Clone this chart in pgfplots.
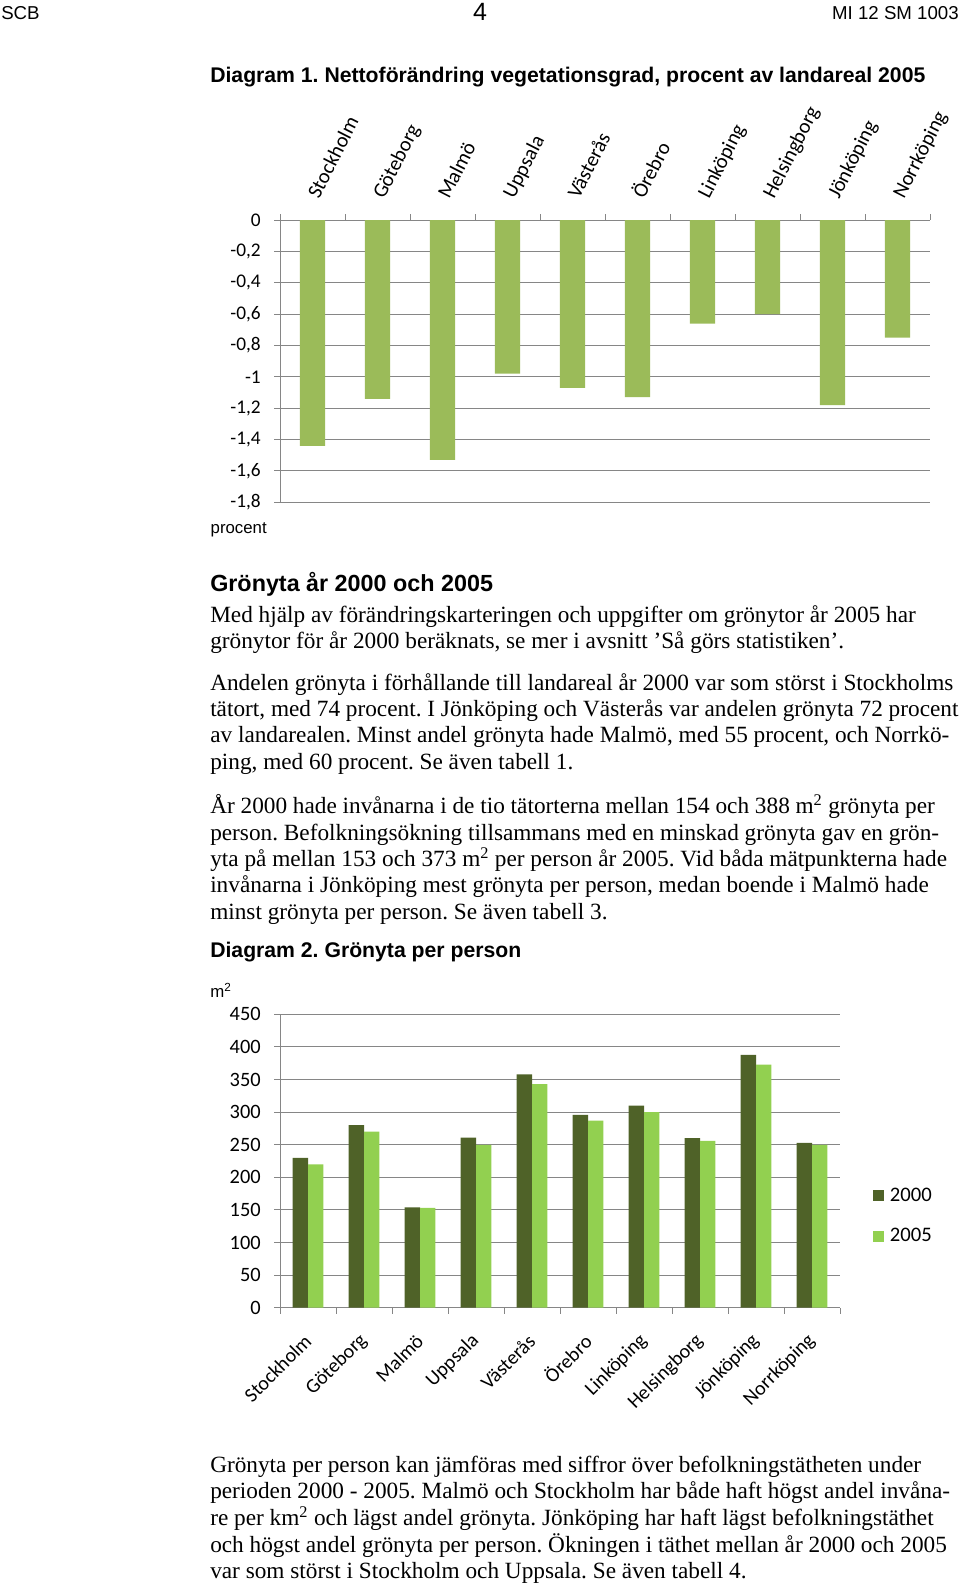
\documentclass[border=0pt]{standalone}
\usepackage{pgfplots}
\pgfplotsset{compat=1.18}
\usepackage{fontspec}
\setmainfont{Liberation Serif}
\newfontfamily\arial{Liberation Sans}
\newfontfamily\calibri{Carlito}
\newcommand\fs[1]{\fontsize{#1}{#1}\selectfont}
\definecolor{barone}{HTML}{9BBB59}
\definecolor{darkg}{HTML}{4F6228}
\definecolor{lightg}{HTML}{92D050}
\definecolor{gridgray}{HTML}{868686}
\begin{document}
\frenchspacing
\begin{tikzpicture}[x=0.75pt,y=-0.75pt]
\useasboundingbox (0,0) rectangle (960,1586);
\tikzset{body/.style={anchor=mid west,inner sep=0pt,font=\fs{17.45pt}\frenchspacing}}
% header
\node[anchor=base west,inner sep=0pt,font=\arial\fs{14pt}] at (1,19.2) {SCB};
\node[anchor=base,inner sep=0pt,font=\arial\fs{18.75pt}] at (480,20) {4};
\node[anchor=base east,inner sep=0pt,font=\arial\fs{14pt}] at (959,19.2) {MI 12 SM 1003};
\node[anchor=base west,inner sep=0pt,font=\arial\bfseries\fs{15.9pt}] at (210,82.5) {Diagram 1. Nettoförändring vegetationsgrad, procent av landareal 2005};

% chart 1
\begin{scope}[x=1cm,y=1cm]
\begin{axis}[
 at={(210pt,-376.725pt)}, anchor=south west, scale only axis,
 width=487.5pt, height=211.7pt,
 xmin=0, xmax=10, ymin=-1.8, ymax=0, enlargelimits=false,
 axis line style={draw=none},
 xtick pos=right, xticklabel pos=right, ytick pos=left, yticklabel pos=left,
 tick align=inside, ytick align=outside,
 ymajorgrids, grid style={draw=gridgray, line width=0.75pt},
 minor xtick={0}, xminorgrids, minor grid style={draw=gridgray, line width=0.75pt},
 major tick length=4.5pt, minor tick length=0pt,
 tick style={draw=gridgray, line width=0.75pt},
 xtick={0,1,...,10}, xticklabels={},
 extra x ticks={0.6,1.6,2.6,3.6,4.6,5.6,6.6,7.6,8.6,9.6},
 extra x tick labels={Stockholm,Göteborg,Malmö,Uppsala,Västerås,Örebro,Linköping,Helsingborg,Jönköping,Norrköping},
 extra x tick style={grid=none, major tick length=0pt, tick style={draw=none},
   tick label style={rotate=63, anchor=base west, inner sep=0pt, font=\calibri\fs{15.5pt}}},
 xticklabel shift=15pt,
 ytick={-1.8,-1.6,-1.4,-1.2,-1,-0.8,-0.6,-0.4,-0.2,0},
 yticklabels={{-1,8},{-1,6},{-1,4},{-1,2},{-1},{-0,8},{-0,6},{-0,4},{-0,2},{0}},
 yticklabel style={font=\calibri\fs{14.5pt}, inner sep=0pt, anchor=east},
 yticklabel shift=9.75pt,
 ybar, bar width=19.1pt,
]
\addplot[fill=barone, draw=none] coordinates {(0.5,-1.44) (1.5,-1.14) (2.5,-1.53) (3.5,-0.98) (4.5,-1.07) (5.5,-1.13) (6.5,-0.66) (7.5,-0.60) (8.5,-1.18) (9.5,-0.75)};
\end{axis}
\end{scope}
\node[anchor=mid west,inner sep=0pt,font=\arial\fs{12.6pt}] at (210.4,530) {procent};

% text
\node[anchor=base west,inner sep=0pt,font=\arial\bfseries\fs{17.5pt}] at (210,591) {Grönyta år 2000 och 2005};
\node[body] at (210,619.6) {Med hjälp av förändringskarteringen och uppgifter om grönytor år 2005 har};
\node[body] at (210,645.9) {grönytor för år 2000 beräknats, se mer i avsnitt ’Så görs statistiken’.};
\node[body] at (210,687.4) {Andelen grönyta i förhållande till landareal år 2000 var som störst i Stockholms};
\node[body] at (210,713.7) {tätort, med 74 procent. I Jönköping och Västerås var andelen grönyta 72 procent};
\node[body] at (210,739.9) {av landarealen. Minst andel grönyta hade Malmö, med 55 procent, och Norrkö-};
\node[body] at (210,766.2) {ping, med 60 procent. Se även tabell 1.};
\node[body] at (210,810.8) {År 2000 hade invånarna i de tio tätorterna mellan 154 och 388 m\textsuperscript{2} grönyta per};
\node[body] at (210,837.0) {person. Befolkningsökning tillsammans med en minskad grönyta gav en grön-};
\node[body] at (210,863.3) {yta på mellan 153 och 373 m\textsuperscript{2} per person år 2005. Vid båda mätpunkterna hade};
\node[body] at (210,889.7) {invånarna i Jönköping mest grönyta per person, medan boende i Malmö hade};
\node[body] at (210,916.0) {minst grönyta per person. Se även tabell 3.};
\node[anchor=base west,inner sep=0pt,font=\arial\bfseries\fs{15.9pt}] at (210,957.5) {Diagram 2. Grönyta per person};
\node[anchor=mid west,inner sep=0pt,font=\arial\fs{12.6pt}] at (210,994) {m\textsuperscript{2}};

% chart 2
\begin{scope}[x=1cm,y=1cm]
\begin{axis}[
 at={(210pt,-980.775pt)}, anchor=south west, scale only axis,
 width=420pt, height=220pt,
 xmin=0, xmax=10, ymin=0, ymax=450, enlargelimits=false,
 axis x line*=bottom, axis y line*=left,
 axis line style={draw=gridgray, line width=0.75pt, -},
 ymajorgrids, grid style={draw=gridgray, line width=0.75pt},
 tick align=outside, major tick length=4.5pt,
 tick style={draw=gridgray, line width=0.75pt},
 xtick={0,1,...,10}, xticklabels={},
 extra x ticks={0.5,1.5,...,9.5},
 extra x tick labels={Stockholm,Göteborg,Malmö,Uppsala,Västerås,Örebro,Linköping,Helsingborg,Jönköping,Norrköping},
 extra x tick style={grid=none, major tick length=0pt, tick style={draw=none},
   tick label style={rotate=45, anchor=east, inner sep=0pt, font=\calibri\fs{15pt}}},
 xticklabel shift=22.5pt,
 ytick={0,50,100,150,200,250,300,350,400,450},
 yticklabels={0,50,100,150,200,250,300,350,400,450},
 yticklabel style={font=\calibri\fs{15.3pt}, inner sep=0pt, anchor=east},
 yticklabel shift=9.75pt,
 ybar=0pt, bar width=11.5pt,
 legend cell align=left,
 legend image code/.code={\fill[#1] (0pt,-4.1pt) rectangle (8.25pt,4.1pt);},
 legend style={at={(1.0589,0.3125)}, anchor=west, draw=none, fill=none,
   inner sep=0pt, outer sep=0pt, row sep=18.7pt, font=\calibri\fs{15.5pt},
   nodes={inner xsep=4.5pt, inner ysep=0pt}},
]
\addplot[fill=darkg, draw=none] coordinates {(0.5,230) (1.5,280) (2.5,154) (3.5,261) (4.5,358) (5.5,296) (6.5,310) (7.5,260) (8.5,388) (9.5,253)};
\addplot[fill=lightg, draw=none] coordinates {(0.5,220) (1.5,270) (2.5,153) (3.5,250) (4.5,343) (5.5,287) (6.5,300) (7.5,256) (8.5,373) (9.5,250)};
\legend{2000,2005}
\end{axis}
\end{scope}

\node[body] at (210,1469.3) {Grönyta per person kan jämföras med siffror över befolkningstätheten under};
\node[body] at (210,1495.6) {perioden 2000 - 2005. Malmö och Stockholm har både haft högst andel invåna-};
\node[body] at (210,1522.9) {re per km\textsuperscript{2} och lägst andel grönyta. Jönköping har haft lägst befolkningstäthet};
\node[body] at (210,1549.3) {och högst andel grönyta per person. Ökningen i täthet mellan år 2000 och 2005};
\node[body] at (210,1575.5) {var som störst i Stockholm och Uppsala. Se även tabell 4.};
\end{tikzpicture}
\end{document}
